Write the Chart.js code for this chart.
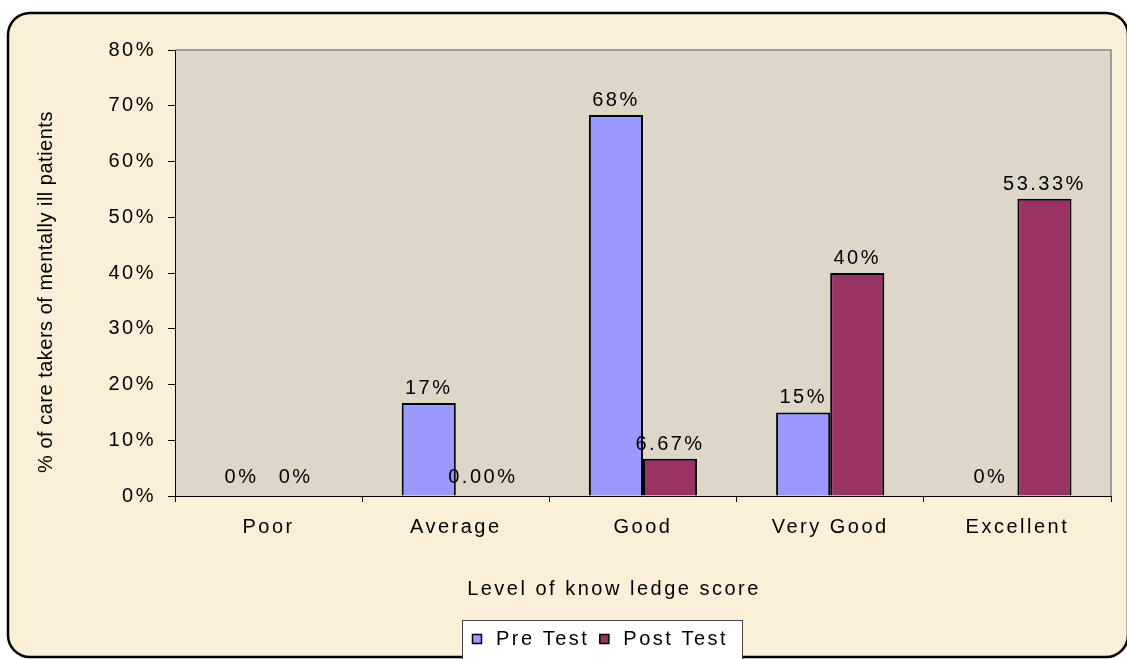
<!DOCTYPE html>
<html lang="en">

<head>
    <meta charset="UTF-8">
    <title>Level of knowledge score</title>
    <script src="https://cdn.jsdelivr.net/npm/chart.js"></script>
    <style>
        body {
            margin: 0;
            background: #fff;
        }
    </style>
</head>

<body>
    <canvas id="chart" width="1127" height="659"></canvas>
    <script>
        const categories = ['Poor', 'Average', 'Good', 'Very Good', 'Excellent'];
        const preTest = [0, 16.67, 68.33, 15, 0];
        const postTest = [0, 0, 6.67, 40, 53.33];
        const preLabels = ['0%', '17%', '68%', '15%', '0%'];
        const postLabels = ['0%', '0.00%', '6.67%', '40%', '53.33%'];
        const seriesNames = ['Pre Test', 'Post Test'];

        const FONT = '"Liberation Sans", Arial, sans-serif';
        const SIZE = 20;
        const SPACING = '2.5px';

        const pagePlugin = {
            id: 'page',
            beforeUpdate(chart) { chart.ctx.letterSpacing = SPACING; },
            beforeLayout(chart) { chart.ctx.letterSpacing = SPACING; },
            beforeDraw(chart) {
                const ctx = chart.ctx;
                const a = chart.chartArea;
                ctx.save();
                ctx.fillStyle = '#fff';
                ctx.fillRect(0, 0, chart.width, chart.height);
                // outer rounded frame
                ctx.beginPath();
                ctx.roundRect(8, 13, 1120, 644, 22);
                ctx.fillStyle = '#fcefd7';
                ctx.fill();
                ctx.lineWidth = 2.5;
                ctx.strokeStyle = '#000';
                ctx.stroke();
                // plot area
                ctx.fillStyle = '#ddd6c9';
                ctx.fillRect(a.left, a.top, a.width, a.height);
                ctx.strokeStyle = '#858585';
                ctx.lineWidth = 1.5;
                ctx.beginPath();
                ctx.moveTo(a.left, a.top);
                ctx.lineTo(a.right, a.top);
                ctx.lineTo(a.right, a.bottom);
                ctx.stroke();
                ctx.restore();
                ctx.letterSpacing = SPACING;
            },
            afterDatasetsDraw(chart) {
                const ctx = chart.ctx;
                const labelSets = [preLabels, postLabels];
                ctx.save();
                ctx.letterSpacing = SPACING;
                ctx.font = SIZE + 'px ' + FONT;
                ctx.fillStyle = '#000';
                ctx.textAlign = 'center';
                ctx.textBaseline = 'alphabetic';
                chart.data.datasets.forEach((ds, i) => {
                    chart.getDatasetMeta(i).data.forEach((bar, j) => {
                        const off = ds.data[j] === 0 ? 13 : 9;
                        ctx.fillText(labelSets[i][j], bar.x, bar.y - off);
                    });
                });
                ctx.restore();
            },
            afterDraw(chart) {
                const ctx = chart.ctx;
                ctx.save();
                ctx.fillStyle = '#000';
                ctx.textAlign = 'center';
                ctx.textBaseline = 'middle';

                // x axis title
                ctx.letterSpacing = SPACING;
                ctx.font = SIZE + 'px ' + FONT;
                ctx.fillText('Level of know ledge score', 614, 589);

                // y axis title
                ctx.save();
                ctx.letterSpacing = '0.5px';
                ctx.font = '20px ' + FONT;
                ctx.translate(46, 292);
                ctx.rotate(-Math.PI / 2);
                ctx.fillText('% of care takers of mentally ill patients', 0, 0);
                ctx.restore();

                // legend
                ctx.fillStyle = '#fff';
                ctx.fillRect(462, 620, 280, 60);
                ctx.strokeStyle = '#444';
                ctx.lineWidth = 1;
                ctx.strokeRect(462.5, 620.5, 280, 60);
                ctx.letterSpacing = SPACING;
                ctx.font = SIZE + 'px ' + FONT;
                ctx.textAlign = 'left';
                let x = 472;
                chart.data.datasets.forEach(ds => {
                    ctx.fillStyle = ds.backgroundColor;
                    ctx.fillRect(x, 634, 9, 9);
                    ctx.strokeStyle = '#000';
                    ctx.lineWidth = 1.5;
                    ctx.strokeRect(x + 0.5, 634.5, 9, 9);
                    ctx.fillStyle = '#000';
                    ctx.fillText(ds.label, x + 24, 639);
                    x += 24 + ctx.measureText(ds.label).width + 10;
                });
                ctx.restore();
            }
        };

        const zeroless = ctx => (ctx.raw === 0 ? 0 : 2);

        new Chart(document.getElementById('chart'), {
            type: 'bar',
            data: {
                labels: categories,
                datasets: [
                    {
                        label: seriesNames[0],
                        data: preTest,
                        backgroundColor: '#9999ff',
                        borderColor: '#000',
                        borderWidth: zeroless,
                        borderSkipped: 'bottom'
                    },
                    {
                        label: seriesNames[1],
                        data: postTest,
                        backgroundColor: '#993366',
                        borderColor: '#000',
                        borderWidth: zeroless,
                        borderSkipped: 'bottom'
                    }
                ]
            },
            options: {
                responsive: false,
                animation: false,
                devicePixelRatio: 1,
                categoryPercentage: 0.578,
                barPercentage: 1,
                layout: { padding: { top: 50, right: 16, left: 0, bottom: 0 } },
                plugins: {
                    legend: { display: false },
                    tooltip: { enabled: false }
                },
                scales: {
                    x: {
                        afterFit(scale) { scale.height = 163; },
                        grid: { drawOnChartArea: false, tickLength: 6, color: '#000' },
                        border: { color: '#000', width: 1 },
                        ticks: { color: '#000', font: { size: SIZE, family: FONT }, padding: 13, maxRotation: 0 }
                    },
                    y: {
                        min: 0,
                        max: 80,
                        afterFit(scale) { scale.width = 175; },
                        grid: { drawOnChartArea: false, tickLength: 7, color: '#000' },
                        border: { color: '#000', width: 1 },
                        ticks: {
                            stepSize: 10,
                            color: '#000',
                            font: { size: SIZE, family: FONT },
                            padding: 12,
                            callback: v => v + '%'
                        }
                    }
                }
            },
            plugins: [pagePlugin]
        });
    </script>
</body>

</html>
